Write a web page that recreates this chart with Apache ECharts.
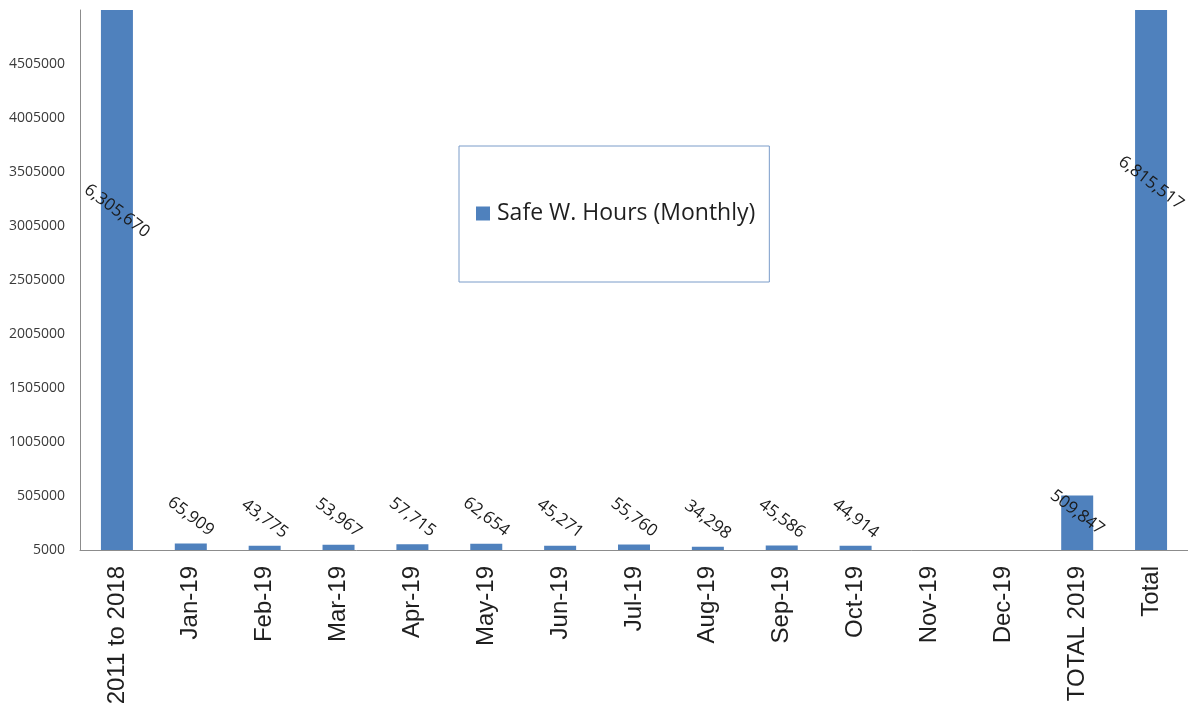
<!DOCTYPE html>
<html>
<head>
<meta charset="utf-8">
<script src="https://cdn.jsdelivr.net/npm/echarts@6/dist/echarts.min.js"></script>
<style>
html,body{margin:0;padding:0;background:#fff;}
#chart{width:1188px;height:710px;}
</style>
</head>
<body>
<div id="chart"></div>
<script>
const categories = ['2011 to 2018','Jan-19','Feb-19','Mar-19','Apr-19','May-19','Jun-19','Jul-19','Aug-19','Sep-19','Oct-19','Nov-19','Dec-19','TOTAL 2019','Total'];
const safeHours = [6305670, 65909, 43775, 53967, 57715, 62654, 45271, 55760, 34298, 45586, 44914, null, null, 509847, 6815517];
const seriesName = 'Safe W. Hours (Monthly)';
const yMin = 5000;
const yMax = 5005000;
const yInterval = 500000;

const BLUE = '#4f81bd';

const data = safeHours.map((v, i) => {
  if (v === null) return null;
  const item = { value: v };
  if (v > yMax) {
    // bar is clipped at the top of the plot; label sits inside
    item.label = { position: 'insideTop', distance: i === 0 ? 201 : 173 };
  } else if (v > 300000) {
    item.label = { position: 'insideTop', distance: 17 };
  }
  return item;
});

const chart = echarts.init(document.getElementById('chart'), null, { renderer: 'canvas' });
chart.setOption({
  animation: false,
  backgroundColor: '#ffffff',
  grid: { left: 80, right: -2, top: 10, bottom: 160, containLabel: false },
  legend: {
    data: [seriesName],
    left: 459,
    top: 146,
    orient: 'horizontal',
    padding: [56, 14, 57, 17],
    borderColor: '#7a9cc9',
    borderWidth: 1,
    itemWidth: 14,
    itemHeight: 14,
    itemGap: 8,
    icon: 'rect',
    textStyle: { fontFamily: 'Open Sans', fontSize: 23, color: '#1f1f1f', padding: [0, 0, 0, 2] }
  },
  xAxis: {
    type: 'category',
    data: categories,
    axisLine: { lineStyle: { color: '#8c8c8c', width: 1 } },
    axisTick: { show: false },
    axisLabel: {
      interval: 0,
      rotate: 90,
      margin: 16,
      fontFamily: 'Liberation Sans',
      fontSize: 24,
      color: '#1f1f1f'
    }
  },
  yAxis: {
    type: 'value',
    min: yMin,
    max: yMax,
    interval: yInterval,
    splitLine: { show: false },
    axisLine: { show: true, lineStyle: { color: '#8c8c8c', width: 1 } },
    axisTick: { show: false },
    axisLabel: {
      showMaxLabel: false,
      margin: 15,
      fontFamily: 'Open Sans',
      fontSize: 14,
      color: '#3a3a3a',
      formatter: v => String(v)
    }
  },
  series: [{
    name: seriesName,
    type: 'bar',
    data: data,
    barWidth: 32,
    clip: true,
    itemStyle: { color: BLUE },
    label: {
      show: true,
      position: 'top',
      distance: 27,
      rotate: -37,
      align: 'center',
      verticalAlign: 'middle',
      fontFamily: 'Open Sans',
      fontSize: 17,
      color: '#1a1a1a',
      formatter: p => p.value == null ? '' : Number(p.value).toLocaleString('en-US')
    }
  }]
});
</script>
</body>
</html>
